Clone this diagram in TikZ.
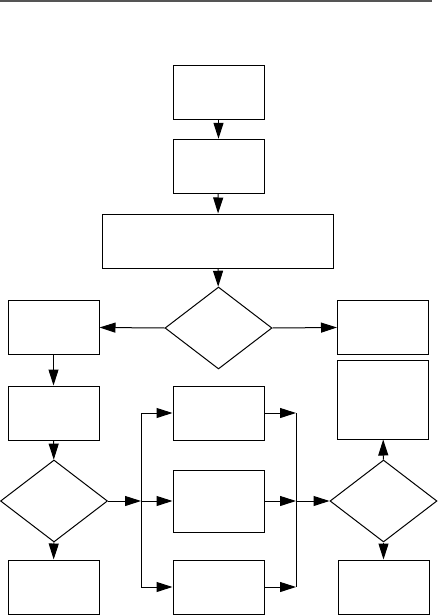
\documentclass[tikz,border=0pt]{standalone}
\usepackage{xcolor}
\usepackage{tikz}
\usetikzlibrary{arrows.meta, shapes.geometric}
\definecolor{rulegray}{HTML}{555555}

\begin{document}
\begin{tikzpicture}[x=1pt, y=-1pt, line width=1pt,
  flowbox/.style={draw, rectangle, inner sep=0pt, minimum width=91pt, minimum height=54pt},
  flowtest/.style={draw, diamond, inner sep=0pt, minimum width=107pt, minimum height=82pt},
  flowarrow/.style={-{Triangle[length=16pt, width=10pt]}}]
  \useasboundingbox (0,0) rectangle (437,615);
  \draw[rulegray, line width=2pt] (0,0.8) -- (432,0.8);
  % top column
  \node[flowbox] (start) at (218.5,92.5) {};
  \node[flowbox] (prep) at (218.5,166.3) {};
  \node[flowbox, minimum width=231pt] (wide) at (217.8,241) {};
  \node[flowtest] (split) at (218.5,328) {};
  % left column
  \node[flowbox] (lefta) at (53.5,327.5) {};
  \node[flowbox] (leftb) at (53.5,413) {};
  \node[flowtest] (lefttest) at (54,501) {};
  \node[flowbox] (leftc) at (53.5,587) {};
  % middle column
  \node[flowbox] (mida) at (218.5,413) {};
  \node[flowbox, minimum height=62pt] (midb) at (218.5,501) {};
  \node[flowbox] (midc) at (218.5,587) {};
  % right column
  \node[flowbox] (righta) at (383,327.5) {};
  \node[flowbox, minimum height=79pt] (rightb) at (383,399.5) {};
  \node[flowtest] (righttest) at (383.5,501) {};
  \node[flowbox] (rightc) at (383.5,587) {};
  % fork and join
  \coordinate (forka) at (141,413);
  \coordinate (forkb) at (141,501);
  \coordinate (forkc) at (141,587);
  \coordinate (joina) at (296,413);
  \coordinate (joinb) at (296,501);
  \coordinate (joinc) at (296,587);
  \draw (forka) -- (forkc);
  \draw (joina) -- (joinc);
  % arrows
  \draw[flowarrow] (start) -- (prep);
  \draw[flowarrow] (prep) -- (wide);
  \draw[flowarrow] (wide) -- (split);
  \draw[flowarrow] (split.west) -- (lefta.east);
  \draw[flowarrow] (split.east) -- (righta.west);
  \draw[flowarrow] (lefta) -- (leftb);
  \draw[flowarrow] (leftb) -- (lefttest);
  \draw[flowarrow] (lefttest) -- (leftc);
  \draw[flowarrow] (lefttest.east) -- (forkb);
  \draw[flowarrow] (forka) -- (mida.west);
  \draw[flowarrow] (forkb) -- (midb.west);
  \draw[flowarrow] (forkc) -- (midc.west);
  \draw[flowarrow] (mida.east) -- (joina);
  \draw[flowarrow] (midb.east) -- (joinb);
  \draw[flowarrow] (midc.east) -- (joinc);
  \draw[flowarrow] (joinb) -- (righttest.west);
  \draw[flowarrow] (righttest) -- (rightb);
  \draw[flowarrow] (righttest) -- (rightc);
\end{tikzpicture}
\end{document}
